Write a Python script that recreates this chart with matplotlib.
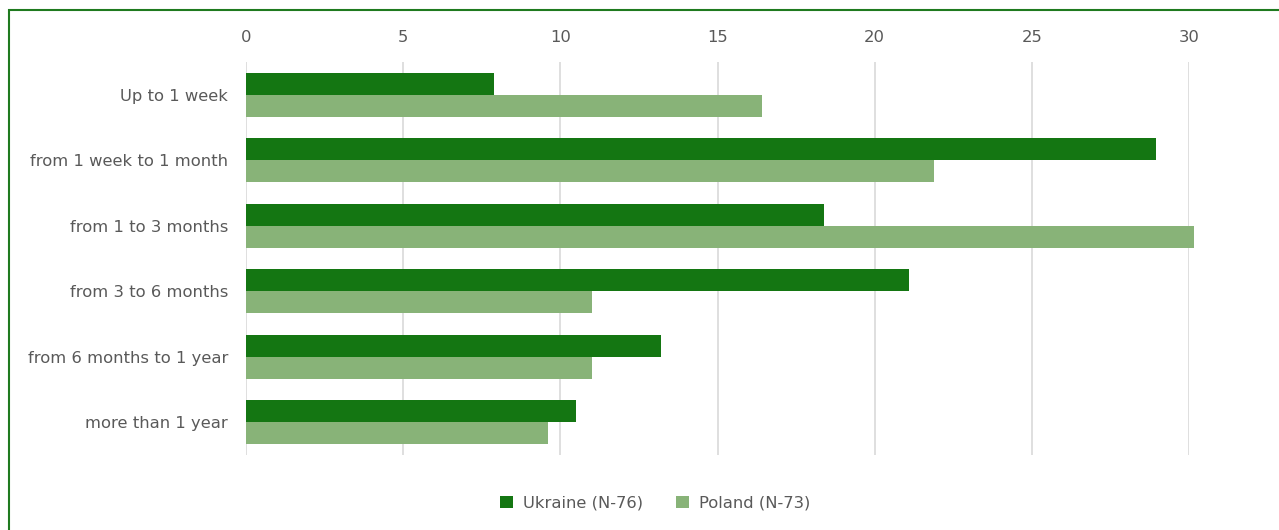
import numpy as np
import matplotlib.pyplot as plt
from matplotlib.patches import Rectangle

categories = ["Up to 1 week", "from 1 week to 1 month", "from 1 to 3 months",
              "from 3 to 6 months", "from 6 months to 1 year", "more than 1 year"]
ukraine = [7.9, 28.95, 18.4, 21.1, 13.2, 10.5]
poland = [16.4, 21.9, 30.15, 11.0, 11.0, 9.6]
xticks = [0, 5, 10, 15, 20, 25, 30]

DARK = "#147612"
LIGHT = "#88b378"
TEXT = "#595959"

plt.rcParams["font.family"] = ["DejaVu Sans"]

fig = plt.figure(figsize=(12.79, 5.30), dpi=100)
ax = fig.add_axes([246 / 1279, 1 - 455 / 530, (1189 - 246) / 1279, (455 - 62) / 530])

y = np.arange(len(categories))
h = 0.335
ax.barh(y - h / 2, ukraine, height=h, color=DARK, label="Ukraine (N-76)", clip_on=False, zorder=3)
ax.barh(y + h / 2, poland, height=h, color=LIGHT, label="Poland (N-73)", clip_on=False, zorder=3)

ax.set_xlim(0, 30)
ax.set_ylim(len(categories) - 0.5, -0.5)
ax.set_yticks(y)
ax.set_yticklabels(categories)
ax.set_xticks(xticks)
ax.xaxis.tick_top()
ax.tick_params(axis="both", length=0, labelsize=11.8, labelcolor=TEXT)
ax.tick_params(axis="x", pad=12.5)
ax.tick_params(axis="y", pad=13)
ax.grid(axis="x", color="#dcdcdc", linewidth=1.3, zorder=0)
for s in ax.spines.values():
    s.set_visible(False)

ax.legend(loc="center", bbox_to_anchor=(655 / 1279, 1 - 503 / 530), bbox_transform=fig.transFigure,
          ncol=2, frameon=False, fontsize=11.8, labelcolor=TEXT, handlelength=0.8, handleheight=0.8,
          handletextpad=0.6, columnspacing=2.0)

# outer frame, running off the right and bottom edges
fig.patches.append(Rectangle((9 / 1279, -0.1), 1.2, 1 - 10 / 530 + 0.1, transform=fig.transFigure,
                             fill=False, edgecolor="#1f7a1f", linewidth=1.5))

fig.savefig("out.png", dpi=100)
